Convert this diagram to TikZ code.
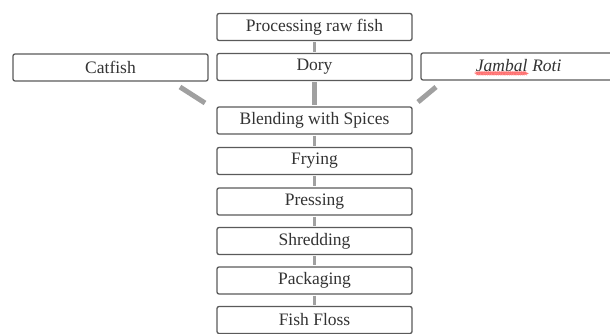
\documentclass[tikz,border=0pt]{standalone}
\usepackage{fontspec}
\setmainfont{Liberation Serif}
\usetikzlibrary{decorations.pathmorphing}
\definecolor{boxline}{HTML}{5A5A5A}
\definecolor{conn}{HTML}{A0A0A0}
\definecolor{txtc}{HTML}{333333}
\newcommand\squigword[1]{\tikz[baseline=(sw.base)]{\node[draw=none,fill=none,minimum width=0pt,minimum height=0pt,inner sep=0pt,anchor=base](sw){#1};\draw[red!55,line width=0.4pt,decorate,decoration={snake,amplitude=0.5pt,segment length=2.2pt}]([yshift=-2.2pt]sw.base west)--([yshift=-2.2pt]sw.base east);}}
\tikzset{
  stepbox/.style={draw=boxline, line width=1.3pt, rounded corners=2pt, fill=white,
    minimum width=195pt, minimum height=27pt, inner sep=0pt, text=txtc,
    font=\fontsize{17.5}{20}\selectfont},
  vconn/.style={draw=conn, line width=3pt},
  dconn/.style={draw=conn, line width=5pt},
}
\begin{document}
\begin{tikzpicture}[x=1pt,y=-1pt]
\useasboundingbox (0,0) rectangle (610,334);
\node[stepbox] (proc) at (314.5,27) {Processing raw fish};
\node[stepbox] (dory) at (314.5,67) {Dory};
\node[stepbox] (cat) at (110.5,67.5) {Catfish};
\node[stepbox] (jam) at (518.5,66.5) {\textit{\squigword{Jambal} Roti}};
\node[stepbox] (blend) at (314.5,120.5) {Blending with Spices};
\node[stepbox] (fry) at (314.5,161) {Frying};
\node[stepbox] (press) at (314.5,201.5) {Pressing};
\node[stepbox] (shred) at (314.5,241) {Shredding};
\node[stepbox] (pack) at (314.5,280.5) {Packaging};
\node[stepbox] (floss) at (314.5,320) {Fish Floss};
\draw[vconn] ([yshift=-1pt]proc.south) -- ([yshift=1pt]dory.north);
\draw[dconn] ([yshift=-1pt]dory.south) -- ([yshift=1pt]blend.north);
\draw[vconn] ([yshift=-1pt]blend.south) -- ([yshift=1pt]fry.north);
\draw[vconn] ([yshift=-1pt]fry.south) -- ([yshift=1pt]press.north);
\draw[vconn] ([yshift=-1pt]press.south) -- ([yshift=1pt]shred.north);
\draw[vconn] ([yshift=-1pt]shred.south) -- ([yshift=1pt]pack.north);
\draw[vconn] ([yshift=-1pt]pack.south) -- ([yshift=1pt]floss.north);
\coordinate (c1) at (180,87);
\coordinate (c2) at (205,103);
\coordinate (j1) at (436,87);
\coordinate (j2) at (418,102);
\draw[dconn] (c1) -- (c2);
\draw[dconn] (j1) -- (j2);
\end{tikzpicture}
\end{document}
